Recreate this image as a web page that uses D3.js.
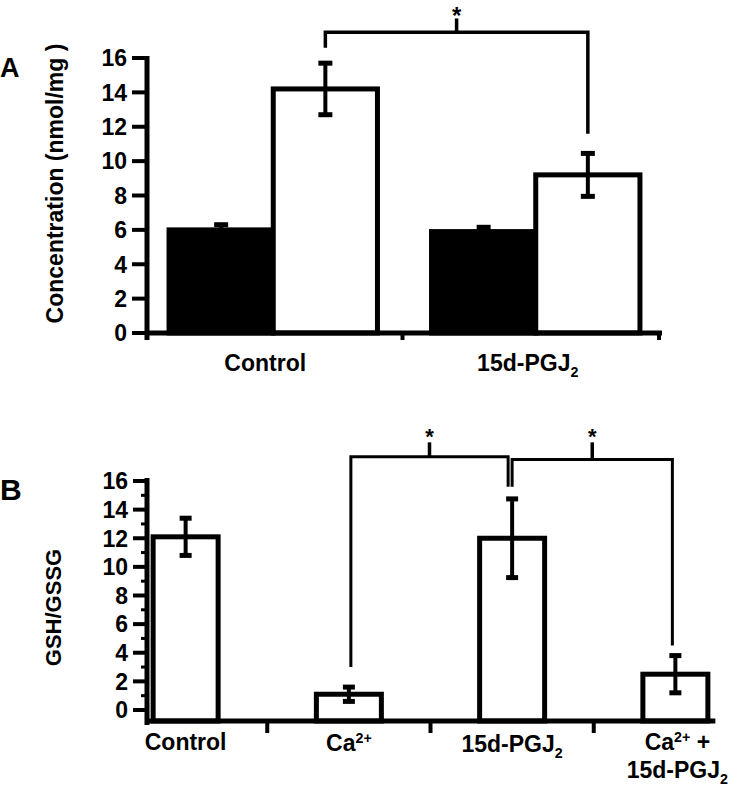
<!DOCTYPE html>
<html><head><meta charset="utf-8">
<script src="https://cdn.jsdelivr.net/npm/d3@7"></script>
<style>
body{margin:0;background:#fff;}
text{font-family:"Liberation Sans",Arial,sans-serif;font-weight:bold;fill:#000;}
</style></head>
<body>
<svg id="chart" width="732" height="786"></svg>
<script>
// ---------- Panel A data ----------
const catsA = ["Control", "15d-PGJ2"];
const seriesA = ["filled", "open"];
const filledValues = [6.0, 5.9];
const filledErr = [0.3, 0.25];
const openValues = [14.2, 9.2];
const openErr = [1.5, 1.25];
const ticksA = [0, 2, 4, 6, 8, 10, 12, 14, 16];
const bracketA = {from: 0, to: 1, top: 17.5, leftEnd: 16.6, rightEnd: 11.6, tick: 18.3};

// ---------- Panel B data ----------
const catsB = ["Control", "Ca2+", "15d-PGJ2", "Ca2+ + 15d-PGJ2"];
const valuesB = [12.1, 1.1, 12.0, 2.5];
const errB = [1.3, 0.5, 2.75, 1.3];
const ticksB = [0, 2, 4, 6, 8, 10, 12, 14, 16];
const minorTicksB = [1, 3, 5, 7, 9, 11, 13, 15];
const bracketsB = [
  {from: 1, to: 2, top: 17.7, leftEnd: 3.0, rightEnd: 15.6, tick: 18.7, dxL: 2, dxR: -4},
  {from: 2, to: 3, top: 17.5, leftEnd: 15.6, rightEnd: 4.5, tick: 18.7, dxL: 0, dxR: -3}
];

const svg = d3.select("#chart");

// helper for labels with sub/superscripts
function richLabel(g, text, x, y, size) {
  const t = g.append("text").attr("x", x).attr("y", y).attr("text-anchor", "middle").style("font-size", size + "px");
  const parts = text.split(/(2\+|J2)/).filter(s => s.length);
  let pending = 0;
  const add = (str, dy, small) => {
    const s = t.append("tspan").text(str).attr("dy", dy + pending);
    if (small) s.style("font-size", (size * 0.62) + "px");
    pending = -dy;
  };
  parts.forEach(p => {
    if (p === "2+") {
      add("2+", -8, true);
    } else if (p === "J2") {
      add("J", 0, false);
      add("2", 6, true);
    } else {
      add(p, 0, false);
    }
  });
  return t;
}

// ================= PANEL A =================
const yA = d3.scaleLinear().domain([0, 16]).range([333, 58]);
const xA = d3.scaleBand().domain(catsA).range([147, 662]).paddingInner(0.206).paddingOuter(0.084);
const xAin = d3.scaleBand().domain(seriesA).range([0, xA.bandwidth()]);

const gA = svg.append("g");

const dataA = [];
catsA.forEach((c, i) => {
  dataA.push({cat: c, s: "filled", v: filledValues[i], e: filledErr[i]});
  dataA.push({cat: c, s: "open", v: openValues[i], e: openErr[i]});
});
gA.selectAll("rect.bar").data(dataA).enter().append("rect")
  .attr("x", d => xA(d.cat) + xAin(d.s))
  .attr("y", d => yA(d.v))
  .attr("width", xAin.bandwidth())
  .attr("height", d => yA(0) - yA(d.v))
  .attr("fill", d => d.s === "filled" ? "#000" : "#fff")
  .attr("stroke", "#000").attr("stroke-width", 5);

dataA.forEach(d => {
  const cx = xA(d.cat) + xAin(d.s) + xAin.bandwidth() / 2;
  gA.append("line").attr("x1", cx).attr("x2", cx).attr("y1", yA(d.v + d.e)).attr("y2", yA(d.v - d.e))
    .attr("stroke", "#000").attr("stroke-width", 4);
  [d.v + d.e, d.v - d.e].forEach(val => {
    gA.append("line").attr("x1", cx - 7).attr("x2", cx + 7).attr("y1", yA(val)).attr("y2", yA(val))
      .attr("stroke", "#000").attr("stroke-width", 5);
  });
});

// axes A
gA.append("line").attr("x1", 147).attr("x2", 147).attr("y1", yA(16) - 2).attr("y2", yA(0) + 7)
  .attr("stroke", "#000").attr("stroke-width", 5);
gA.append("line").attr("x1", 145).attr("x2", xA.range()[1]).attr("y1", yA(0)).attr("y2", yA(0))
  .attr("stroke", "#000").attr("stroke-width", 5);
ticksA.forEach(t => {
  gA.append("line").attr("x1", 132).attr("x2", 147).attr("y1", yA(t)).attr("y2", yA(t))
    .attr("stroke", "#000").attr("stroke-width", 4);
  gA.append("text").attr("x", 127).attr("y", yA(t)).attr("dy", "0.36em").attr("text-anchor", "end")
    .style("font-size", "23px").text(t);
});
const xTickA = [ (xA("Control") + xA.bandwidth() + xA("15d-PGJ2")) / 2 - 2, xA.range()[1] - 3 ];
xTickA.forEach(x => {
  gA.append("line").attr("x1", x).attr("x2", x).attr("y1", yA(0)).attr("y2", yA(0) + 7)
    .attr("stroke", "#000").attr("stroke-width", 4);
});
catsA.forEach(c => {
  richLabel(gA, c, xA(c) + xA.bandwidth() / 2 - 8, 371, 23);
});
gA.append("text").attr("transform", `translate(63,${(yA(0) + yA(16)) / 2 - 12}) rotate(-90)`)
  .attr("text-anchor", "middle").style("font-size", "23px").text("Concentration (nmol/mg )");
gA.append("text").attr("x", 0).attr("y", 77).style("font-size", "27px").text("A");

{
  const xl = xA(catsA[bracketA.from]) + xAin("open") + xAin.bandwidth() / 2;
  const xr = xA(catsA[bracketA.to]) + xAin("open") + xAin.bandwidth() / 2;
  const path = d3.path();
  path.moveTo(xl, yA(bracketA.leftEnd));
  path.lineTo(xl, yA(bracketA.top));
  path.lineTo(xr, yA(bracketA.top));
  path.lineTo(xr, yA(bracketA.rightEnd));
  gA.append("path").attr("d", path.toString()).attr("fill", "none").attr("stroke", "#000").attr("stroke-width", 3.5);
  const xm = (xl + xr) / 2;
  gA.append("line").attr("x1", xm).attr("x2", xm).attr("y1", yA(bracketA.top)).attr("y2", yA(bracketA.tick))
    .attr("stroke", "#000").attr("stroke-width", 3.5);
  gA.append("text").attr("x", xm).attr("y", yA(bracketA.tick) + 6).attr("text-anchor", "middle")
    .style("font-size", "24px").text("*");
}

// ================= PANEL B =================
const yB = d3.scaleLinear().domain([-0.77, 16]).range([721, 481]);
const xB = d3.scaleBand().domain(catsB).range([104, 757]).padding(0);
const bwB = 65;
const cB = c => xB(c) + xB.bandwidth() / 2;
const gB = svg.append("g");

gB.selectAll("rect.bar").data(catsB).enter().append("rect")
  .attr("x", c => cB(c) - bwB / 2)
  .attr("y", (c, i) => yB(valuesB[i]))
  .attr("width", bwB)
  .attr("height", (c, i) => yB(-0.77) - yB(valuesB[i]))
  .attr("fill", "#fff").attr("stroke", "#000").attr("stroke-width", 5);

catsB.forEach((c, i) => {
  const cx = cB(c), v = valuesB[i], e = errB[i];
  gB.append("line").attr("x1", cx).attr("x2", cx).attr("y1", yB(v + e)).attr("y2", yB(v - e))
    .attr("stroke", "#000").attr("stroke-width", 4);
  [v + e, v - e].forEach(val => {
    gB.append("line").attr("x1", cx - 6).attr("x2", cx + 6).attr("y1", yB(val)).attr("y2", yB(val))
      .attr("stroke", "#000").attr("stroke-width", 5);
  });
});

gB.append("line").attr("x1", 147).attr("x2", 147).attr("y1", yB(16) - 3).attr("y2", yB(-0.77) + 4)
  .attr("stroke", "#000").attr("stroke-width", 5);
gB.append("line").attr("x1", 145).attr("x2", cB(catsB[3]) + 40).attr("y1", yB(-0.77)).attr("y2", yB(-0.77))
  .attr("stroke", "#000").attr("stroke-width", 5);
ticksB.forEach(t => {
  gB.append("line").attr("x1", 133).attr("x2", 147).attr("y1", yB(t)).attr("y2", yB(t))
    .attr("stroke", "#000").attr("stroke-width", 4);
  gB.append("text").attr("x", 128).attr("y", yB(t)).attr("dy", "0.36em").attr("text-anchor", "end")
    .style("font-size", "23px").text(t);
});
minorTicksB.forEach(t => {
  gB.append("line").attr("x1", 141).attr("x2", 147).attr("y1", yB(t)).attr("y2", yB(t))
    .attr("stroke", "#000").attr("stroke-width", 3);
});
catsB.slice(1).forEach(c => {
  const x = xB(c);
  gB.append("line").attr("x1", x).attr("x2", x).attr("y1", yB(-0.77)).attr("y2", yB(-0.77) + 12)
    .attr("stroke", "#000").attr("stroke-width", 4);
});
richLabel(gB, "Control", cB(catsB[0]), 750, 23);
richLabel(gB, "Ca2+", cB(catsB[1]), 751, 23);
richLabel(gB, "15d-PGJ2", cB(catsB[2]), 752, 23);
richLabel(gB, "Ca2+ +", cB(catsB[3]) + 2, 750, 23);
richLabel(gB, "15d-PGJ2", cB(catsB[3]) + 2, 778, 23);

gB.append("text").attr("transform", `translate(61,${(yB(0) + yB(16)) / 2 + 12}) rotate(-90)`)
  .attr("text-anchor", "middle").style("font-size", "22px").text("GSH/GSSG");
gB.append("text").attr("x", 0).attr("y", 500).style("font-size", "30px").text("B");

bracketsB.forEach(b => {
  const xl = cB(catsB[b.from]) + b.dxL;
  const xr = cB(catsB[b.to]) + b.dxR;
  const path = d3.path();
  path.moveTo(xl, yB(b.leftEnd));
  path.lineTo(xl, yB(b.top));
  path.lineTo(xr, yB(b.top));
  path.lineTo(xr, yB(b.rightEnd));
  gB.append("path").attr("d", path.toString()).attr("fill", "none").attr("stroke", "#000").attr("stroke-width", 3);
  const xm = (xl + xr) / 2;
  gB.append("line").attr("x1", xm).attr("x2", xm).attr("y1", yB(b.top)).attr("y2", yB(b.tick))
    .attr("stroke", "#000").attr("stroke-width", 3.5);
  gB.append("text").attr("x", xm).attr("y", yB(b.tick) + 2).attr("text-anchor", "middle")
    .style("font-size", "22px").text("*");
});
</script>
</body></html>
